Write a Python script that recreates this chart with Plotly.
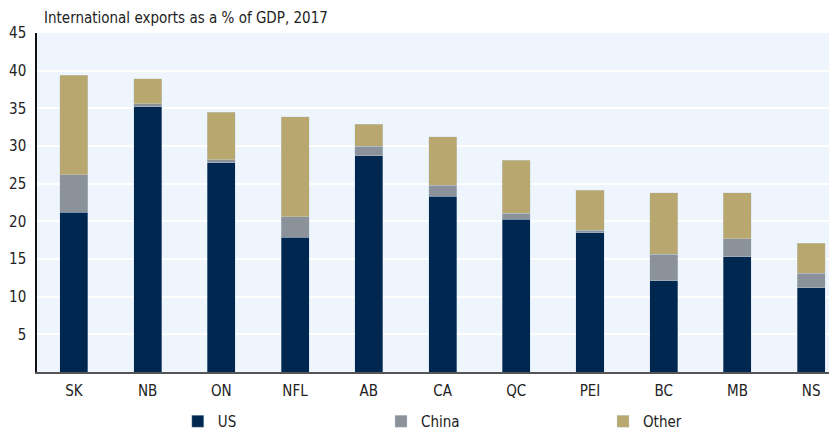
import plotly.graph_objects as go

provinces = ["SK", "NB", "ON", "NFL", "AB", "CA", "QC", "PEI", "BC", "MB", "NS"]
us_share = [21.2, 35.2, 27.8, 17.9, 28.7, 23.3, 20.3, 18.5, 12.1, 15.3, 11.2]
china_share = [5.0, 0.4, 0.4, 2.7, 1.3, 1.5, 0.75, 0.3, 3.5, 2.4, 1.9]
other_share = [13.2, 3.35, 6.3, 13.3, 2.9, 6.4, 7.05, 5.3, 8.2, 6.1, 4.0]
y_ticks = [5, 10, 15, 20, 25, 30, 35, 40, 45]

FONT = "'Liberation Sans Narrow', 'DejaVu Sans Condensed', Lato, sans-serif"

series = [
    ("US", us_share, "#00274F", "legend"),
    ("China", china_share, "#8B9299", "legend2"),
    ("Other", other_share, "#B8A870", "legend3"),
]

fig = go.Figure()
for name, vals, color, leg in series:
    fig.add_trace(go.Bar(
        x=provinces, y=vals, name=name, showlegend=True,
        marker=dict(color=color, line=dict(color="rgba(200,215,230,0.6)", width=0.6)),
        width=0.38, legend=leg,
    ))

leg_common = dict(orientation="h", yanchor="middle", y=-0.146, xanchor="left",
                  font=dict(family=FONT, size=15, color="#222"),
                  bgcolor="rgba(0,0,0,0)", itemwidth=30, tracegroupgap=0)

# The page body adds an 8px offset, so the figure is sized/positioned to compensate.
fig.update_layout(
    barmode="stack",
    showlegend=True,
    width=829, height=425,
    margin=dict(l=29, r=0, t=25, b=61, autoexpand=False),
    paper_bgcolor="white",
    plot_bgcolor="#EEF5FC",
    font=dict(family=FONT, size=15, color="#222"),
    legend=dict(x=0.176, **leg_common),
    legend2=dict(x=0.430, **leg_common),
    legend3=dict(x=0.7075, **leg_common),
    xaxis=dict(
        range=[-0.5, 10.35], automargin=False,
        showline=True, linecolor="#555", linewidth=2,
        showgrid=False, ticks="", tickfont=dict(family=FONT, size=15, color="#222"),
        ticklabelstandoff=4,
    ),
    yaxis=dict(
        range=[0, 45], tickvals=y_ticks, ticktext=[str(v) for v in y_ticks],
        automargin=False,
        showline=True, linecolor="#111", linewidth=1.5,
        showgrid=True, gridcolor="white", gridwidth=2,
        zeroline=False, ticks="", tickfont=dict(family=FONT, size=15, color="#222"),
        ticklabelstandoff=6,
    ),
    annotations=[dict(
        text="International exports as a % of GDP, 2017",
        x=(34 - 29) / 800, xref="paper", y=1 + (25 - 10) / 339, yref="paper",
        showarrow=False, xanchor="left", yanchor="middle",
        font=dict(family=FONT, size=15, color="#222"),
    )],
)

fig.write_html("out.html")
